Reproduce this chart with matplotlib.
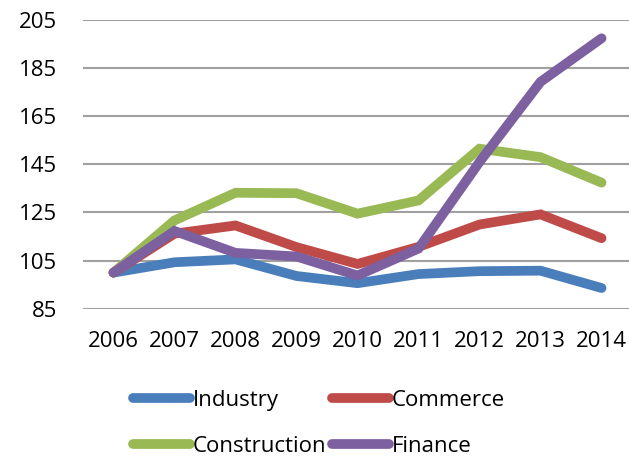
import matplotlib
matplotlib.use("Agg")
import matplotlib.pyplot as plt

years = ["2006", "2007", "2008", "2009", "2010", "2011", "2012", "2013", "2014"]
industry = [100, 104.3, 105.5, 98.6, 95.6, 99.4, 100.6, 100.8, 93.6]
commerce = [100, 116.2, 119.6, 110.6, 103.6, 110.7, 120.0, 124.2, 114.3]
construction = [100, 121.7, 133.2, 133.0, 124.5, 130.0, 151.5, 148.0, 137.4]
finance = [100, 117.3, 108.2, 106.7, 98.8, 110.0, 146.0, 179.3, 197.4]
yticks = [85, 105, 125, 145, 165, 185, 205]

series = [
    ("Industry", industry, "#4A7EBB"),
    ("Commerce", commerce, "#BE4B48"),
    ("Construction", construction, "#98B954"),
    ("Finance", finance, "#7D60A0"),
]

plt.rcParams["font.family"] = ["Open Sans", "DejaVu Sans"]
FS = 16

fig = plt.figure(figsize=(6.29, 4.58), dpi=100)
ax = fig.add_axes([83 / 629, 1 - 308.7 / 458, 1 - 83 / 629, (308.7 - 20) / 458])

x = list(range(len(years)))
lines = {}
for name, vals, col in series:
    lines[name], = ax.plot(x, vals, color=col, lw=7, solid_capstyle="round",
                           solid_joinstyle="miter", label=name)

ax.set_ylim(85, 205)
ax.set_xlim(-0.5, 8.45)
ax.set_yticks(yticks)
ax.set_yticklabels([str(v) for v in yticks], fontsize=FS)
ax.set_xticks(x)
ax.set_xticklabels(years, fontsize=FS)
ax.tick_params(length=0)
ax.tick_params(axis="x", pad=16)
ax.tick_params(axis="y", pad=18.5)
ax.grid(axis="y", color="#A0A0A0", lw=1.5)
ax.set_axisbelow(True)
for s in ax.spines.values():
    s.set_visible(False)

# legend filled row by row: Industry, Commerce / Construction, Finance
order = ["Industry", "Construction", "Commerce", "Finance"]
fig.legend([lines[n] for n in order], order, ncol=2, loc="upper left",
           bbox_to_anchor=(133 / 629, 1 - 390 / 458), frameon=False,
           fontsize=FS, handlelength=2.57, handletextpad=0.13,
           columnspacing=0.22, labelspacing=1.12, borderpad=0,
           borderaxespad=0)

fig.savefig("out.png", dpi=100)
